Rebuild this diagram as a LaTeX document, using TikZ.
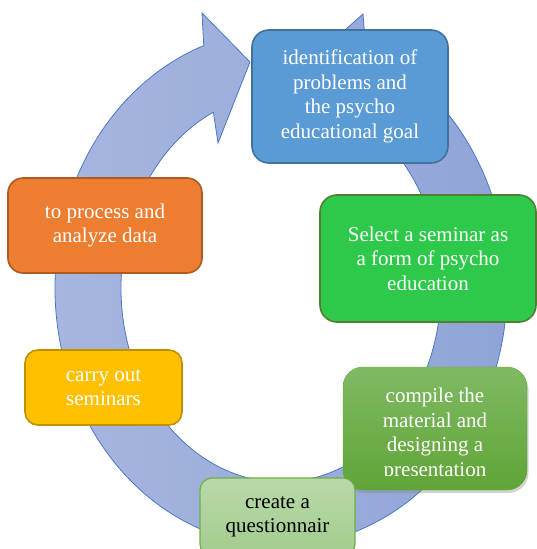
\documentclass[tikz,border=0pt]{standalone}
\usepackage{fontspec}
\setmainfont{Liberation Serif}
\usetikzlibrary{shadows}
\definecolor{ringL}{HTML}{A8B7DF}
\definecolor{ringR}{HTML}{8EA3D6}
\definecolor{ringLine}{HTML}{4A78C8}
\definecolor{goalFill}{HTML}{5B9BD5}
\definecolor{goalLine}{HTML}{41719C}
\definecolor{selFill}{HTML}{2EC94A}
\definecolor{selLine}{HTML}{507E32}
\definecolor{compTop}{HTML}{7FBA63}
\definecolor{compBot}{HTML}{60A437}
\definecolor{questTop}{HTML}{B9D9AA}
\definecolor{questBot}{HTML}{A2CC8C}
\definecolor{questLine}{HTML}{70AD47}
\definecolor{carryFill}{HTML}{FFC000}
\definecolor{carryLine}{HTML}{BF9000}
\definecolor{procFill}{HTML}{ED7D31}
\definecolor{procLine}{HTML}{AE5A21}
\begin{document}
\begin{tikzpicture}[x=1pt,y=1pt,
  stage/.style={rounded corners=17pt, line width=1.6pt, align=center, text=white,
    inner sep=0pt, font=\fontsize{21}{24.5}\selectfont},
  stagetext/.style={align=center, text=white, inner sep=0pt, font=\fontsize{21}{24.5}\selectfont}]
\useasboundingbox (0,0) rectangle (537,-549);
% the circular arrow behind the boxes
\path[left color=ringL, right color=ringR, draw=ringLine, line width=0.8pt]
  (365.7,-48.8) arc[start angle=68, end angle=-250, x radius=226pt, y radius=258pt]
  -- (202,-13) -- (250,-62) -- (218,-143) -- (213.4,-112.2)
  arc[start angle=-245, end angle=75, x radius=160pt, y radius=194pt]
  -- (345,-30) -- (363,-14) -- cycle;
% steps
\node[stage, fill=goalFill, draw=goalLine, minimum width=196pt, minimum height=133pt] (goal) at (350,-96.5)
  {identification of\\problems and\\the psycho\\educational goal};
\node[stage, fill=selFill, draw=selLine, minimum width=216pt, minimum height=127pt] (seminar) at (428,-258.5)
  {Select a seminar as\\a form of psycho\\education};
\node[stage, rounded corners=20pt, top color=compTop, bottom color=compBot, draw=compBot, line width=0.4pt,
  minimum width=184pt, minimum height=123pt,
  drop shadow={shadow xshift=1.5pt, shadow yshift=-3pt, opacity=0.35}] (compile) at (435,-428.5) {};
\begin{scope}
\clip (343,-367) rectangle (527,-475);
\node[stagetext, yshift=-6pt] (compiletext) at (compile) {compile the\\material and\\designing a\\presentation};
\end{scope}
\node[stage, rounded corners=12pt, top color=questTop, bottom color=questBot, draw=questLine, line width=1.2pt,
  text=black, minimum width=155pt, minimum height=78pt] (quest) at (277.5,-517)
  {create a\\questionnair};
\node[stage, rounded corners=13pt, fill=carryFill, draw=carryLine, minimum width=157pt, minimum height=75pt] (carry) at (103.5,-387.5)
  {carry out\\seminars};
\node[stage, rounded corners=15pt, fill=procFill, draw=procLine, minimum width=194pt, minimum height=95pt] (process) at (105,-225.5)
  {to process and\\analyze data};
\end{tikzpicture}
\end{document}
